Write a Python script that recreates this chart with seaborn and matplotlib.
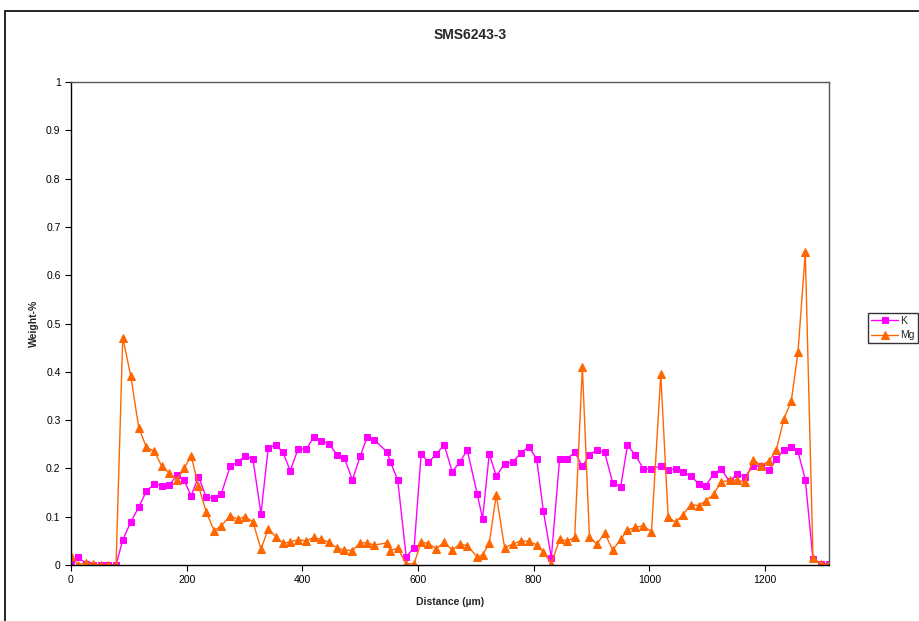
import seaborn as sns
import matplotlib.pyplot as plt
from matplotlib.patches import Rectangle

distance = [0, 11.6, 26.0, 38.6, 51.4, 64.6, 77.9, 89.5, 103.4, 117.2,
            130.4, 144.2, 157.1, 170.2, 183.5, 195.7, 207.8, 220.4, 233.8, 247.6,
            259.7, 275.3, 288.0, 301.3, 314.6, 328.5, 341.1, 354.5, 366.6, 379.2,
            392.6, 406.9, 419.6, 432.4, 446.2, 460.1, 472.7, 486.6, 500.4, 511.7,
            524.7, 546.5, 552.4, 565.0, 579.6, 593.4, 605.5, 618.2, 632.0, 645.4,
            659.2, 672.4, 685.2, 702.5, 711.7, 723.3, 735.4, 749.8, 763.6, 777.5,
            791.3, 805.2, 816.8, 830.6, 845.0, 858.4, 871.0, 884.3, 896.5, 909.1,
            922.9, 936.8, 950.6, 962.3, 976.1, 989.9, 1003.8, 1019.9, 1032.6, 1045.4,
            1058.0, 1071.9, 1085.7, 1097.3, 1111.2, 1123.8, 1138.9, 1151.5, 1165.4, 1179.7,
            1193.1, 1206.9, 1219.6, 1232.9, 1245.5, 1257.1, 1269.8, 1283.1, 1297.0, 1310.8]

k = [0.006, 0.017, 0.003, 0.0, 0.0, 0.0, 0.0, 0.052, 0.089, 0.120,
     0.153, 0.168, 0.164, 0.166, 0.186, 0.175, 0.143, 0.183, 0.141, 0.139,
     0.147, 0.204, 0.213, 0.226, 0.219, 0.106, 0.243, 0.248, 0.233, 0.195,
     0.240, 0.240, 0.264, 0.257, 0.251, 0.228, 0.222, 0.176, 0.226, 0.264,
     0.259, 0.234, 0.213, 0.176, 0.017, 0.036, 0.230, 0.213, 0.230, 0.249,
     0.193, 0.213, 0.238, 0.147, 0.096, 0.230, 0.184, 0.210, 0.213, 0.231,
     0.245, 0.220, 0.112, 0.015, 0.220, 0.220, 0.234, 0.204, 0.228, 0.238,
     0.233, 0.170, 0.162, 0.248, 0.227, 0.199, 0.199, 0.205, 0.197, 0.199,
     0.193, 0.184, 0.168, 0.164, 0.188, 0.199, 0.173, 0.188, 0.183, 0.204,
     0.205, 0.197, 0.219, 0.238, 0.244, 0.235, 0.177, 0.012, 0.003, 0.002]

mg = [0.019, 0.001, 0.004, 0.002, 0.0, 0.0, 0.0, 0.471, 0.391, 0.284,
      0.244, 0.235, 0.204, 0.190, 0.176, 0.200, 0.226, 0.164, 0.110, 0.071,
      0.081, 0.102, 0.095, 0.100, 0.089, 0.033, 0.074, 0.059, 0.045, 0.048,
      0.052, 0.050, 0.057, 0.053, 0.047, 0.035, 0.031, 0.030, 0.046, 0.046,
      0.041, 0.046, 0.030, 0.035, 0.002, 0.003, 0.048, 0.044, 0.034, 0.047,
      0.031, 0.043, 0.040, 0.017, 0.021, 0.045, 0.145, 0.036, 0.043, 0.050,
      0.049, 0.042, 0.027, 0.003, 0.053, 0.050, 0.057, 0.410, 0.059, 0.043,
      0.066, 0.031, 0.053, 0.072, 0.078, 0.081, 0.069, 0.395, 0.100, 0.088,
      0.104, 0.125, 0.123, 0.133, 0.146, 0.172, 0.175, 0.176, 0.171, 0.218,
      0.206, 0.215, 0.238, 0.303, 0.339, 0.440, 0.647, 0.015, 0.002, 0.002]

y_ticks = [0, 0.1, 0.2, 0.3, 0.4, 0.5, 0.6, 0.7, 0.8, 0.9, 1]
y_labels = ["0", "0.1", "0.2", "0.3", "0.4", "0.5", "0.6", "0.7", "0.8", "0.9", "1"]
x_ticks = [0, 200, 400, 600, 800, 1000, 1200]

sns.set_style("white")
plt.rcParams['font.family'] = ['Liberation Sans', 'DejaVu Sans']

fig = plt.figure(figsize=(9.19, 6.21), dpi=100)
ax = fig.add_axes([71 / 919, 56 / 621, 758 / 919, 483 / 621])

sns.lineplot(x=distance, y=k, ax=ax, color='#FF00FF', marker='s', markersize=5,
             markeredgecolor='#FF00FF', linewidth=1, sort=False, label='K')
sns.lineplot(x=distance, y=mg, ax=ax, color='#FF6600', marker='^', markersize=6,
             markeredgecolor='#FF6600', linewidth=1, sort=False, label='Mg')

ax.set_xlim(0, distance[-1])
ax.set_ylim(0, 1)
ax.set_yticks(y_ticks)
ax.set_yticklabels(y_labels)
ax.set_xticks(x_ticks)
ax.tick_params(axis='both', labelsize=7.5, direction='out', length=4, width=0.8,
               colors='black', left=True, bottom=True)
for side in ['left', 'bottom']:
    ax.spines[side].set_color('black')
    ax.spines[side].set_linewidth(1)
for side in ['top', 'right']:
    ax.spines[side].set_color('#555555')
    ax.spines[side].set_linewidth(1)

ax.set_xlabel("Distance (µm)", fontsize=7.5, fontweight='bold', labelpad=8)
ax.set_ylabel("Weight-%", fontsize=7.5, fontweight='bold', labelpad=5)
fig.text(470 / 919, 1 - 35 / 621, "SMS6243-3", ha='center', va='center',
         fontsize=10, fontweight='bold')

leg = ax.legend(loc='upper left', bbox_to_anchor=(868 / 919, 1 - 313 / 621),
                bbox_transform=fig.transFigure, frameon=True, fancybox=False,
                fontsize=7.5, handlelength=2.6, borderpad=0.3, labelspacing=0.4,
                handletextpad=0.2, borderaxespad=0)
leg.get_frame().set_edgecolor('black')
leg.get_frame().set_linewidth(1)

fig.add_artist(Rectangle((5 / 919, -0.1), 1.2, 1.1 - 11 / 621,
                         transform=fig.transFigure, fill=False,
                         edgecolor='black', linewidth=1.2))

fig.savefig("out.png", dpi=100)
